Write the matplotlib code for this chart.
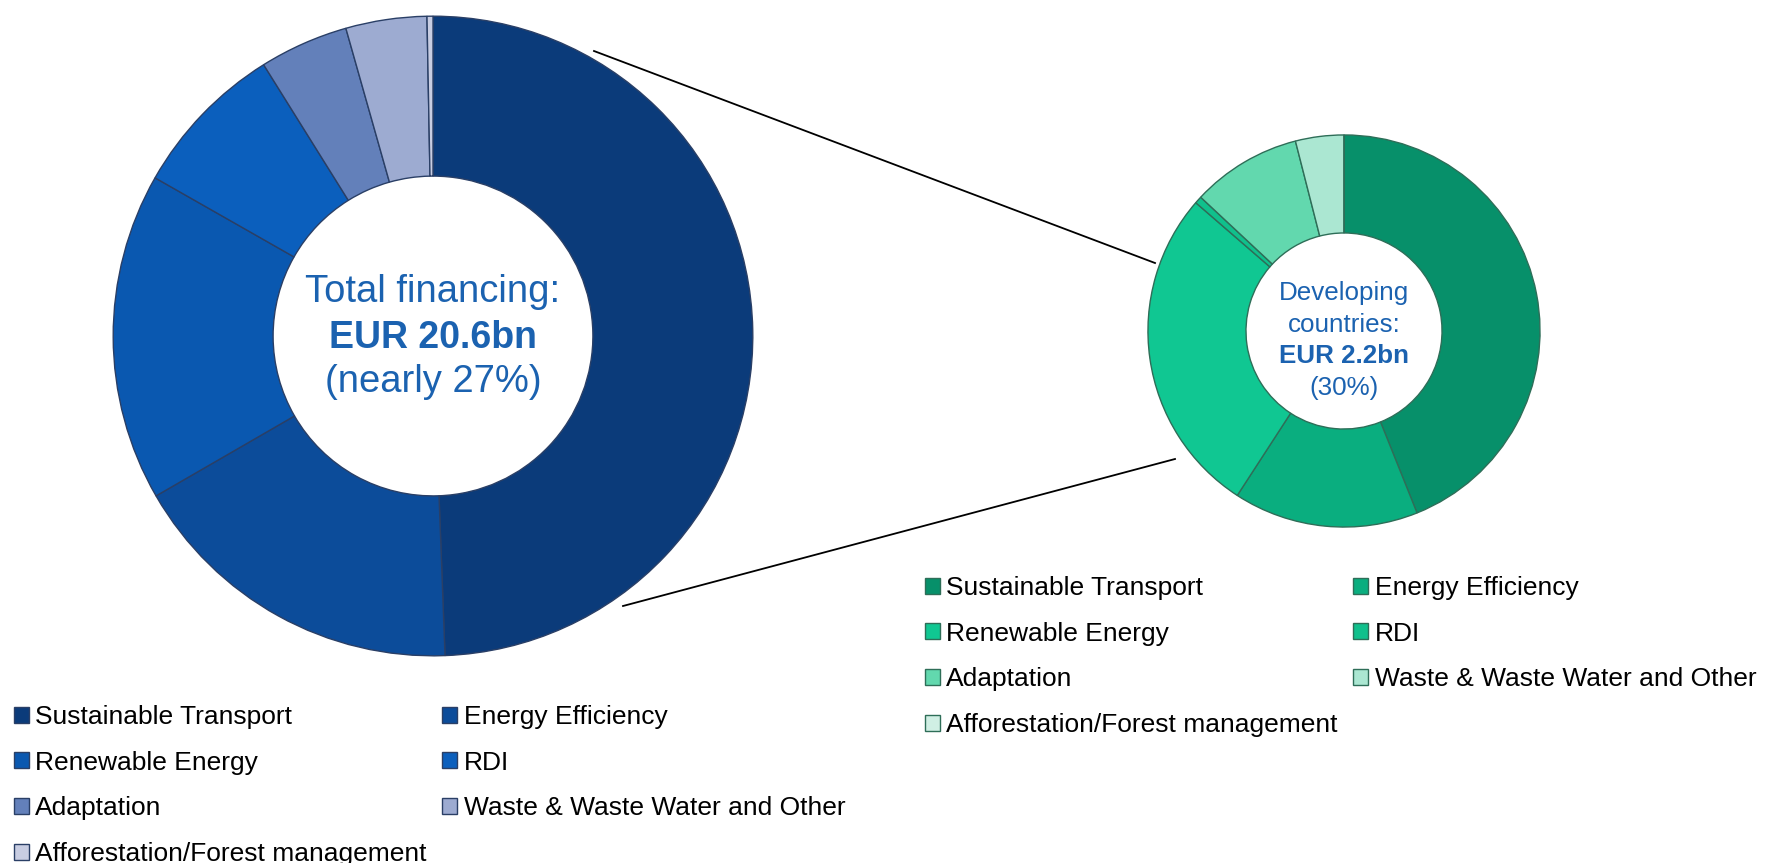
import matplotlib.pyplot as plt
from matplotlib.lines import Line2D

plt.rcParams["font.family"] = ["Liberation Sans", "DejaVu Sans"]

CATEGORIES = [
    "Sustainable Transport",
    "Energy Efficiency",
    "Renewable Energy",
    "RDI",
    "Adaptation",
    "Waste & Waste Water and Other",
    "Afforestation/Forest management",
]

TOTAL_SHARES = [49.5, 17.3, 16.6, 7.9, 4.5, 4.1, 0.3]
DEV_SHARES = [44.1, 15.3, 27.3, 0.6, 9.1, 4.0, 0.0]

BLUES = ["#0b3b7a", "#0c4c9a", "#0a58b0", "#0b5fbd", "#6380ba", "#9dabd1", "#c8cde2"]
GREENS = ["#07906a", "#0aae7f", "#10c792", "#10c08c", "#62d8ae", "#abe7d2", "#d0efe4"]
TEXT_BLUE = "#1b62b0"

W, H = 1775, 863


def px_axes(fig, cx, cy, r):
    # axes square of side 2r centred on pixel (cx, cy), y measured from top
    return fig.add_axes([(cx - r) / W, (H - cy - r) / H, 2 * r / W, 2 * r / H])


def donut(ax, shares, colors, edge):
    wedges, _ = ax.pie(
        shares,
        colors=colors,
        startangle=90,
        counterclock=False,
        radius=1.0,
        wedgeprops=dict(width=0.5, edgecolor=edge, linewidth=1.0),
    )
    ax.set_xlim(-1.01, 1.01)
    ax.set_ylim(-1.01, 1.01)
    ax.set_aspect("equal")
    ax.axis("off")
    return wedges


def row_major(items, ncol=2):
    # matplotlib fills legend columns first; reorder so it reads row by row
    return [items[i] for c in range(ncol) for i in range(c, len(items), ncol)]


fig = plt.figure(figsize=(W / 100, H / 100), dpi=100)

# connector lines between the two rings
fig.add_artist(Line2D([594 / W, 1155 / W], [1 - 51 / H, 1 - 263 / H], color="black", lw=1.3))
fig.add_artist(Line2D([623 / W, 1175 / W], [1 - 606 / H, 1 - 459 / H], color="black", lw=1.3))

ax_big = px_axes(fig, 433, 336, 323)
big_wedges = donut(ax_big, TOTAL_SHARES, BLUES, "#2a3f66")
ax_big.text(0, 0.137, "Total financing:", ha="center", va="center", fontsize=27.5, color=TEXT_BLUE)
ax_big.text(0, -0.005, "EUR 20.6bn", ha="center", va="center", fontsize=27,
            fontweight="bold", color=TEXT_BLUE)
ax_big.text(0, -0.145, "(nearly 27%)", ha="center", va="center", fontsize=27.5, color=TEXT_BLUE)

ax_small = px_axes(fig, 1344, 331, 198)
small_wedges = donut(ax_small, DEV_SHARES, GREENS, "#2e6e58")
ax_small.text(0, 0.195, "Developing", ha="center", va="center", fontsize=18.7, color=TEXT_BLUE)
ax_small.text(0, 0.033, "countries:", ha="center", va="center", fontsize=18.7, color=TEXT_BLUE)
ax_small.text(0, -0.129, "EUR 2.2bn", ha="center", va="center", fontsize=18.7,
              fontweight="bold", color=TEXT_BLUE)
ax_small.text(0, -0.291, "(30%)", ha="center", va="center", fontsize=18.7, color=TEXT_BLUE)

legend_kw = dict(
    ncol=2,
    loc="upper left",
    frameon=False,
    fontsize=19,
    borderpad=0,
    borderaxespad=0,
    handlelength=0.55,
    handleheight=0.55,
    handletextpad=0.25,
    columnspacing=0.6,
    labelspacing=0.82,
)
fig.legend(row_major(big_wedges), row_major(CATEGORIES),
           bbox_to_anchor=(14 / W, 1 - 705 / H), **legend_kw)
fig.legend(row_major(small_wedges), row_major(CATEGORIES),
           bbox_to_anchor=(925 / W, 1 - 576 / H), **legend_kw)

fig.savefig("out.png", dpi=100)
